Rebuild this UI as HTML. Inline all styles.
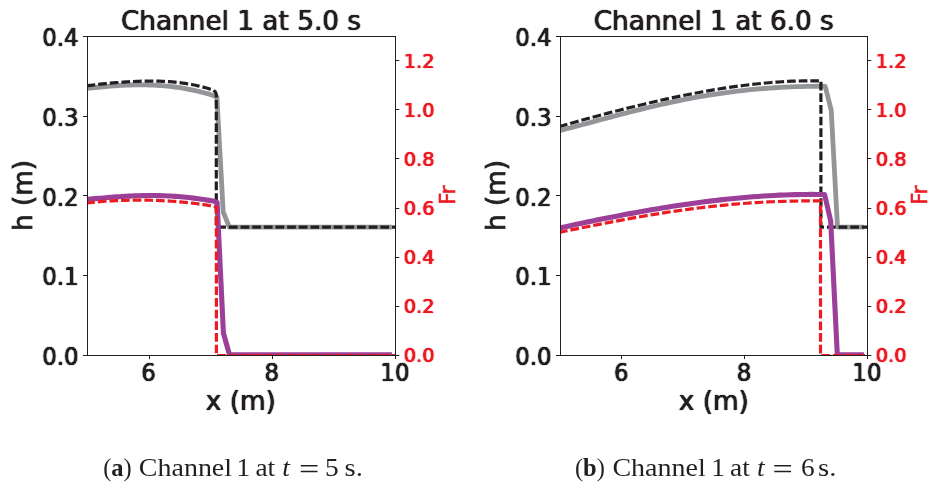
<!DOCTYPE html>
<html lang="en"><head><meta charset="utf-8"><title>Channel 1</title>
<style>html,body{margin:0;padding:0;background:#fff}svg{display:block}</style>
</head><body>
<svg width="938" height="490" viewBox="0 0 938 490" font-family="'DejaVu Sans', 'Liberation Sans', sans-serif">
<rect width="938" height="490" fill="#fff"/>
<defs><filter id="fk" filterUnits="userSpaceOnUse" x="0" y="0" width="938" height="490" color-interpolation-filters="sRGB"><feConvolveMatrix in="SourceAlpha" order="3 3" kernelMatrix="0 0.15 0 0.4 1 0.4 0 0.15 0" divisor="1" edgeMode="none" preserveAlpha="false" result="a"/><feFlood flood-color="#231f20"/><feComposite operator="in" in2="a"/></filter><filter id="fr" filterUnits="userSpaceOnUse" x="0" y="0" width="938" height="490" color-interpolation-filters="sRGB"><feConvolveMatrix in="SourceAlpha" order="3 3" kernelMatrix="0 0.1 0 0.45 1 0.45 0 0.1 0" divisor="1" edgeMode="none" preserveAlpha="false" result="a"/><feFlood flood-color="#ed1c24"/><feComposite operator="in" in2="a"/></filter><filter id="ft" filterUnits="userSpaceOnUse" x="0" y="0" width="938" height="490" color-interpolation-filters="sRGB"><feConvolveMatrix in="SourceAlpha" order="3 3" kernelMatrix="0 0.12 0 0.4 1 0.4 0 0.12 0" divisor="1" edgeMode="none" preserveAlpha="false" result="a"/><feFlood flood-color="#231f20"/><feComposite operator="in" in2="a"/></filter></defs>
<clipPath id="c1"><rect x="87.5" y="36.5" width="308.00" height="319.0"/></clipPath>
<g clip-path="url(#c1)" fill="none" stroke-linejoin="round">
<path d="M87.50,88.31 L90.07,88.04 L92.64,87.77 L95.21,87.51 L97.78,87.26 L100.35,87.01 L102.92,86.78 L105.49,86.55 L108.06,86.33 L110.62,86.13 L113.19,85.94 L115.76,85.76 L118.33,85.60 L120.90,85.45 L123.47,85.31 L126.04,85.20 L128.61,85.10 L131.18,85.01 L133.75,84.95 L136.32,84.91 L138.89,84.88 L141.46,84.88 L144.03,84.90 L146.60,84.94 L149.17,85.00 L151.73,85.09 L154.30,85.20 L156.87,85.33 L159.44,85.49 L162.01,85.68 L164.58,85.89 L167.15,86.13 L169.72,86.39 L172.29,86.68 L174.86,87.00 L177.43,87.35 L180.00,87.73 L182.57,88.14 L185.14,88.58 L187.71,89.05 L190.28,89.54 L192.84,90.07 L195.41,90.64 L197.98,91.23 L200.55,91.86 L203.12,92.51 L205.69,93.21 L208.26,93.93 L210.83,94.69 L213.40,95.48 L216.90,97.00 L223.20,212.00 L229.30,227.20 L391.90,227.20" stroke="#939598" stroke-width="4.8"/>
<path d="M87.50,85.67 L90.07,85.35 L92.64,85.04 L95.21,84.74 L97.78,84.44 L100.35,84.16 L102.92,83.89 L105.49,83.63 L108.06,83.37 L110.62,83.13 L113.19,82.90 L115.76,82.68 L118.33,82.47 L120.90,82.28 L123.47,82.09 L126.04,81.92 L128.61,81.77 L131.18,81.62 L133.75,81.50 L136.32,81.39 L138.89,81.29 L141.46,81.21 L144.03,81.15 L146.60,81.11 L149.17,81.08 L151.73,81.08 L154.30,81.10 L156.87,81.14 L159.44,81.21 L162.01,81.30 L164.58,81.41 L167.15,81.55 L169.72,81.72 L172.29,81.92 L174.86,82.15 L177.43,82.42 L180.00,82.71 L182.57,83.04 L185.14,83.41 L187.71,83.81 L190.28,84.25 L192.84,84.74 L195.41,85.26 L197.98,85.84 L200.55,86.45 L203.12,87.12 L205.69,87.83 L208.26,88.59 L210.83,89.41 L213.40,90.28 L215.20,91.80 L216.00,93.20 L216.30,95.00 L216.30,97.60" stroke="#231f20" stroke-width="3.2" stroke-dasharray="8.7 2.95" stroke-dashoffset="0.89"/>
<path d="M216.30,100.00 L216.30,227.20 L395.50,227.20" stroke="#231f20" stroke-width="3.2" stroke-dasharray="8.7 2.95" stroke-dashoffset="0"/>
<path d="M87.50,199.41 L90.09,199.15 L92.68,198.90 L95.26,198.65 L97.85,198.41 L100.44,198.17 L103.03,197.94 L105.61,197.71 L108.20,197.50 L110.79,197.29 L113.38,197.09 L115.97,196.90 L118.55,196.72 L121.14,196.55 L123.73,196.39 L126.32,196.24 L128.90,196.11 L131.49,195.99 L134.08,195.88 L136.67,195.79 L139.26,195.71 L141.84,195.65 L144.43,195.60 L147.02,195.56 L149.61,195.55 L152.19,195.55 L154.78,195.57 L157.37,195.60 L159.96,195.66 L162.54,195.73 L165.13,195.82 L167.72,195.93 L170.31,196.05 L172.90,196.20 L175.48,196.37 L178.07,196.55 L180.66,196.76 L183.25,196.99 L185.83,197.23 L188.42,197.50 L191.01,197.79 L193.60,198.10 L196.19,198.43 L198.77,198.78 L201.36,199.15 L203.95,199.54 L206.54,199.96 L209.12,200.39 L211.71,200.85 L214.30,201.32 L217.10,202.30 L223.40,333.00 L229.50,354.70 L391.90,354.70" stroke="#9c3f98" stroke-width="5.1"/>
<path d="M87.50,202.83 L90.07,202.57 L92.64,202.32 L95.21,202.08 L97.78,201.86 L100.35,201.65 L102.92,201.45 L105.49,201.27 L108.06,201.10 L110.62,200.94 L113.19,200.80 L115.76,200.67 L118.33,200.56 L120.90,200.45 L123.47,200.36 L126.04,200.29 L128.61,200.23 L131.18,200.18 L133.75,200.14 L136.32,200.12 L138.89,200.11 L141.46,200.11 L144.03,200.13 L146.60,200.17 L149.17,200.21 L151.73,200.27 L154.30,200.34 L156.87,200.43 L159.44,200.53 L162.01,200.65 L164.58,200.78 L167.15,200.92 L169.72,201.08 L172.29,201.25 L174.86,201.44 L177.43,201.65 L180.00,201.87 L182.57,202.10 L185.14,202.35 L187.71,202.62 L190.28,202.90 L192.84,203.20 L195.41,203.51 L197.98,203.84 L200.55,204.19 L203.12,204.56 L205.69,204.94 L208.26,205.34 L210.83,205.76 L213.40,206.20 L215.60,206.90 L216.40,208.00 L216.40,355.50 L395.50,355.50" stroke="#ed1c24" stroke-width="3.2" stroke-dasharray="8.7 2.95" stroke-dashoffset="1.3"/>
</g>
<rect x="87.5" y="36.5" width="308.00" height="319.0" fill="none" stroke="#231f20" stroke-width="1"/>
<path d="M149.5,355.5 v3.6 M272.5,355.5 v3.6 M395.5,355.5 v3.6 M87.5,355.5 h-4.5 M87.5,275.5 h-4.5 M87.5,195.5 h-4.5 M87.5,116.5 h-4.5 M87.5,36.5 h-4.5 M395.5,355.5 h3.8 M395.5,306.5 h3.8 M395.5,257.5 h3.8 M395.5,208.5 h3.8 M395.5,158.5 h3.8 M395.5,109.5 h3.8 M395.5,60.5 h3.8" stroke="#231f20" stroke-width="1" fill="none"/>
<g filter="url(#fk)">
<text transform="translate(148.70,381.30) scale(0.915,1)" font-size="25" text-anchor="middle" fill="#231f20" letter-spacing="0.45">6</text>
<text transform="translate(271.90,381.30) scale(0.915,1)" font-size="25" text-anchor="middle" fill="#231f20" letter-spacing="0.45">8</text>
<text transform="translate(395.10,381.30) scale(0.915,1)" font-size="25" text-anchor="middle" fill="#231f20" letter-spacing="0.45">10</text>
<text transform="translate(78.50,365.00) scale(0.915,1)" font-size="25" text-anchor="end" fill="#231f20">0.0</text>
<text transform="translate(78.50,285.25) scale(0.915,1)" font-size="25" text-anchor="end" fill="#231f20">0.1</text>
<text transform="translate(78.50,205.50) scale(0.915,1)" font-size="25" text-anchor="end" fill="#231f20">0.2</text>
<text transform="translate(78.50,125.75) scale(0.915,1)" font-size="25" text-anchor="end" fill="#231f20">0.3</text>
<text transform="translate(78.50,46.00) scale(0.915,1)" font-size="25" text-anchor="end" fill="#231f20">0.4</text>
</g>
<g filter="url(#fr)">
<text transform="translate(403.80,362.40) scale(0.99,1)" font-size="19.5" fill="#ed1c24">0.0</text>
<text transform="translate(403.80,313.25) scale(0.99,1)" font-size="19.5" fill="#ed1c24">0.2</text>
<text transform="translate(403.80,264.10) scale(0.99,1)" font-size="19.5" fill="#ed1c24">0.4</text>
<text transform="translate(403.80,214.95) scale(0.99,1)" font-size="19.5" fill="#ed1c24">0.6</text>
<text transform="translate(403.80,165.80) scale(0.99,1)" font-size="19.5" fill="#ed1c24">0.8</text>
<text transform="translate(403.80,116.65) scale(0.99,1)" font-size="19.5" fill="#ed1c24">1.0</text>
<text transform="translate(403.80,67.50) scale(0.99,1)" font-size="19.5" fill="#ed1c24">1.2</text>
</g>
<g filter="url(#ft)">
<text x="241.00" y="29.80" font-size="26.3" text-anchor="middle" fill="#231f20">Channel 1 at 5.0 s</text>
<text x="240.80" y="409.70" font-size="26.3" text-anchor="middle" fill="#231f20">x (m)</text>
</g>
<text transform="translate(32.00,195.50) rotate(-90)" font-size="26.3" text-anchor="middle" fill="#231f20" stroke="#231f20" stroke-width="0.8">h (m)</text>
<text transform="translate(454.70,195.20) rotate(-90)" font-size="21" text-anchor="middle" fill="#ed1c24" stroke="#ed1c24" stroke-width="0.6">Fr</text>
<clipPath id="c2"><rect x="560.5" y="36.5" width="307.00" height="319.0"/></clipPath>
<g clip-path="url(#c2)" fill="none" stroke-linejoin="round">
<path d="M560.50,130.39 L565.86,129.00 L571.21,127.60 L576.57,126.18 L581.93,124.75 L587.29,123.32 L592.64,121.88 L598.00,120.44 L603.36,119.01 L608.71,117.58 L614.07,116.16 L619.43,114.75 L624.79,113.36 L630.14,111.99 L635.50,110.64 L640.86,109.31 L646.21,108.00 L651.57,106.72 L656.93,105.47 L662.29,104.25 L667.64,103.06 L673.00,101.91 L678.36,100.79 L683.71,99.71 L689.07,98.67 L694.43,97.66 L699.79,96.70 L705.14,95.78 L710.50,94.90 L715.86,94.06 L721.21,93.27 L726.57,92.52 L731.93,91.81 L737.29,91.15 L742.64,90.53 L748.00,89.95 L753.36,89.42 L758.71,88.94 L764.07,88.49 L769.43,88.09 L774.79,87.74 L780.14,87.42 L785.50,87.14 L790.86,86.90 L796.21,86.70 L801.57,86.54 L806.93,86.41 L812.29,86.32 L817.64,86.26 L823.00,86.23 L825.20,86.30 L831.20,110.00 L837.50,227.10 L863.90,227.10" stroke="#939598" stroke-width="4.8"/>
<path d="M560.50,126.23 L565.77,124.72 L571.05,123.22 L576.32,121.74 L581.59,120.27 L586.87,118.82 L592.14,117.38 L597.41,115.95 L602.69,114.55 L607.96,113.16 L613.23,111.79 L618.51,110.43 L623.78,109.09 L629.06,107.78 L634.33,106.48 L639.60,105.20 L644.88,103.95 L650.15,102.71 L655.42,101.50 L660.70,100.31 L665.97,99.14 L671.24,98.00 L676.52,96.89 L681.79,95.80 L687.06,94.74 L692.34,93.71 L697.61,92.71 L702.88,91.74 L708.16,90.81 L713.43,89.90 L718.70,89.03 L723.98,88.20 L729.25,87.40 L734.52,86.64 L739.80,85.92 L745.07,85.25 L750.34,84.61 L755.62,84.02 L760.89,83.47 L766.17,82.97 L771.44,82.51 L776.71,82.11 L781.99,81.76 L787.26,81.46 L792.53,81.21 L797.81,81.02 L803.08,80.89 L808.35,80.82 L813.63,80.81 L818.90,80.86" stroke="#231f20" stroke-width="3.2" stroke-dasharray="8.7 2.95" stroke-dashoffset="1.58"/>
<path d="M820.90,81.70 L820.90,227.10 L867.50,227.10" stroke="#231f20" stroke-width="3.2" stroke-dasharray="8.7 2.95" stroke-dashoffset="0"/>
<path d="M560.50,227.87 L565.84,226.68 L571.17,225.51 L576.51,224.35 L581.85,223.20 L587.18,222.07 L592.52,220.96 L597.86,219.86 L603.19,218.78 L608.53,217.71 L613.87,216.66 L619.20,215.63 L624.54,214.61 L629.88,213.62 L635.21,212.64 L640.55,211.68 L645.89,210.74 L651.22,209.82 L656.56,208.92 L661.90,208.04 L667.23,207.18 L672.57,206.34 L677.91,205.53 L683.24,204.74 L688.58,203.97 L693.92,203.22 L699.26,202.50 L704.59,201.81 L709.93,201.14 L715.27,200.50 L720.60,199.89 L725.94,199.30 L731.28,198.75 L736.61,198.22 L741.95,197.73 L747.29,197.26 L752.62,196.83 L757.96,196.43 L763.30,196.06 L768.63,195.73 L773.97,195.43 L779.31,195.17 L784.64,194.94 L789.98,194.76 L795.32,194.61 L800.65,194.50 L805.99,194.44 L811.33,194.41 L816.66,194.43 L822.00,194.49 L824.60,194.50 L830.70,221.00 L837.30,354.70 L863.90,354.70" stroke="#9c3f98" stroke-width="5.1"/>
<path d="M560.50,232.08 L565.81,231.01 L571.11,229.93 L576.42,228.86 L581.72,227.80 L587.03,226.73 L592.34,225.68 L597.64,224.63 L602.95,223.60 L608.26,222.57 L613.56,221.56 L618.87,220.56 L624.17,219.58 L629.48,218.61 L634.79,217.67 L640.09,216.73 L645.40,215.82 L650.70,214.93 L656.01,214.06 L661.32,213.21 L666.62,212.39 L671.93,211.59 L677.23,210.81 L682.54,210.06 L687.85,209.34 L693.15,208.64 L698.46,207.97 L703.77,207.33 L709.07,206.72 L714.38,206.13 L719.68,205.58 L724.99,205.05 L730.30,204.56 L735.60,204.10 L740.91,203.66 L746.21,203.26 L751.52,202.89 L756.83,202.55 L762.13,202.24 L767.44,201.97 L772.74,201.73 L778.05,201.51 L783.36,201.33 L788.66,201.18 L793.97,201.07 L799.28,200.98 L804.58,200.93 L809.89,200.90 L815.19,200.91 L820.50,200.94 L820.50,355.50 L867.50,355.50" stroke="#ed1c24" stroke-width="3.2" stroke-dasharray="8.7 2.95" stroke-dashoffset="1.53"/>
</g>
<rect x="560.5" y="36.5" width="307.00" height="319.0" fill="none" stroke="#231f20" stroke-width="1"/>
<path d="M621.5,355.5 v3.6 M744.5,355.5 v3.6 M867.5,355.5 v3.6 M560.5,355.5 h-4.5 M560.5,275.5 h-4.5 M560.5,195.5 h-4.5 M560.5,116.5 h-4.5 M560.5,36.5 h-4.5 M867.5,355.5 h3.8 M867.5,306.5 h3.8 M867.5,257.5 h3.8 M867.5,208.5 h3.8 M867.5,158.5 h3.8 M867.5,109.5 h3.8 M867.5,60.5 h3.8" stroke="#231f20" stroke-width="1" fill="none"/>
<g filter="url(#fk)">
<text transform="translate(621.50,381.30) scale(0.915,1)" font-size="25" text-anchor="middle" fill="#231f20" letter-spacing="0.45">6</text>
<text transform="translate(744.30,381.30) scale(0.915,1)" font-size="25" text-anchor="middle" fill="#231f20" letter-spacing="0.45">8</text>
<text transform="translate(867.10,381.30) scale(0.915,1)" font-size="25" text-anchor="middle" fill="#231f20" letter-spacing="0.45">10</text>
<text transform="translate(551.50,365.00) scale(0.915,1)" font-size="25" text-anchor="end" fill="#231f20">0.0</text>
<text transform="translate(551.50,285.25) scale(0.915,1)" font-size="25" text-anchor="end" fill="#231f20">0.1</text>
<text transform="translate(551.50,205.50) scale(0.915,1)" font-size="25" text-anchor="end" fill="#231f20">0.2</text>
<text transform="translate(551.50,125.75) scale(0.915,1)" font-size="25" text-anchor="end" fill="#231f20">0.3</text>
<text transform="translate(551.50,46.00) scale(0.915,1)" font-size="25" text-anchor="end" fill="#231f20">0.4</text>
</g>
<g filter="url(#fr)">
<text transform="translate(875.80,362.40) scale(0.99,1)" font-size="19.5" fill="#ed1c24">0.0</text>
<text transform="translate(875.80,313.25) scale(0.99,1)" font-size="19.5" fill="#ed1c24">0.2</text>
<text transform="translate(875.80,264.10) scale(0.99,1)" font-size="19.5" fill="#ed1c24">0.4</text>
<text transform="translate(875.80,214.95) scale(0.99,1)" font-size="19.5" fill="#ed1c24">0.6</text>
<text transform="translate(875.80,165.80) scale(0.99,1)" font-size="19.5" fill="#ed1c24">0.8</text>
<text transform="translate(875.80,116.65) scale(0.99,1)" font-size="19.5" fill="#ed1c24">1.0</text>
<text transform="translate(875.80,67.50) scale(0.99,1)" font-size="19.5" fill="#ed1c24">1.2</text>
</g>
<g filter="url(#ft)">
<text x="713.80" y="29.80" font-size="26.3" text-anchor="middle" fill="#231f20">Channel 1 at 6.0 s</text>
<text x="713.80" y="409.70" font-size="26.3" text-anchor="middle" fill="#231f20">x (m)</text>
</g>
<text transform="translate(505.00,195.50) rotate(-90)" font-size="26.3" text-anchor="middle" fill="#231f20" stroke="#231f20" stroke-width="0.8">h (m)</text>
<text transform="translate(926.70,195.20) rotate(-90)" font-size="21" text-anchor="middle" fill="#ed1c24" stroke="#ed1c24" stroke-width="0.6">Fr</text>
<g font-family="'Liberation Serif', 'DejaVu Serif', serif" font-size="25" fill="#231f20">
<text transform="translate(103.20,475.6) scale(0.98,1)">(<tspan font-weight="bold">a</tspan>)</text>
<text transform="translate(138.80,475.6) scale(1.12,1)">Channel</text>
<text transform="translate(236.60,475.6) scale(1.095,1)">1</text>
<text transform="translate(255.40,475.6) scale(1.095,1)">at</text>
<text transform="translate(282.30,475.6) scale(1.095,1)"><tspan font-style="italic">t</tspan></text>
<text transform="translate(298.90,479.4) scale(1.44,1.17)">=</text>
<text transform="translate(324.90,475.6) scale(1.095,1)">5</text>
<text transform="translate(344.50,475.6) scale(1.15,1)">s.</text>
</g>
<g font-family="'Liberation Serif', 'DejaVu Serif', serif" font-size="25" fill="#231f20">
<text transform="translate(574.90,475.6) scale(0.98,1)">(<tspan font-weight="bold">b</tspan>)</text>
<text transform="translate(612.40,475.6) scale(1.12,1)">Channel</text>
<text transform="translate(711.20,475.6) scale(1.095,1)">1</text>
<text transform="translate(730.00,475.6) scale(1.095,1)">at</text>
<text transform="translate(756.90,475.6) scale(1.095,1)"><tspan font-style="italic">t</tspan></text>
<text transform="translate(772.50,479.4) scale(1.44,1.17)">=</text>
<text transform="translate(801.00,475.6) scale(1.095,1)">6</text>
<text transform="translate(818.10,475.6) scale(1.15,1)">s.</text>
</g>
</svg>
</body></html>
